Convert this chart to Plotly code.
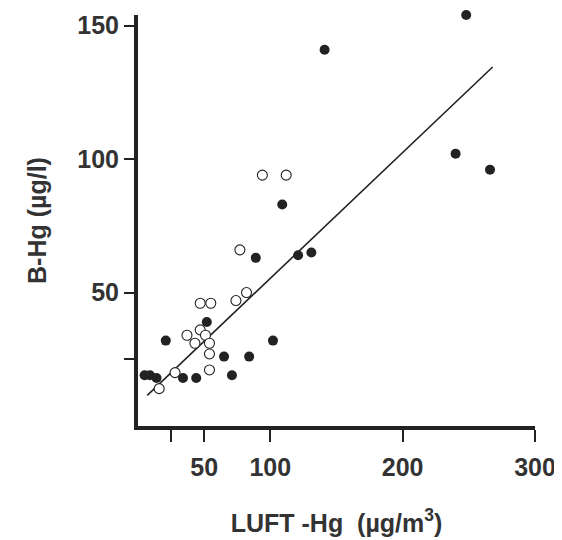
import plotly.graph_objects as go

# Data
filled_x = [141, 248, 240, 266, 109, 89, 121, 131, 52, 21, 102, 65, 84, 34, 44, 71, 5, 9, 14]
filled_y = [141, 154, 102, 96, 83, 63, 64, 65, 39, 32, 32, 26, 26, 18, 18, 19, 19, 19, 18]
open_x = [112, 94, 77, 82, 74, 47, 55, 37, 47, 43, 51, 54, 54, 54, 28, 16]
open_y = [94, 94, 66, 50, 47, 46, 46, 34, 36, 31, 34, 31, 27, 21, 20, 14]
line_x = [7, 268]
line_y = [11.5, 134.5]
x_tick_vals = [25, 50, 100, 200, 300]
x_tick_text = ["", "50", "100", "200", "300"]
y_tick_vals = [25, 50, 100, 150]
y_tick_text = ["", "50", "100", "150"]

ink = "#222222"
text_ink = "#333333"
font_family = "Liberation Sans, Arial, sans-serif"
fsize = 25

fig = go.Figure()
fig.add_trace(go.Scatter(x=line_x, y=line_y, mode="lines",
                         line=dict(color=ink, width=1.6), hoverinfo="skip",
                         showlegend=False, cliponaxis=False))
fig.add_trace(go.Scatter(x=open_x, y=open_y, mode="markers",
                         marker=dict(symbol="circle", size=10, color="white",
                                     line=dict(color=ink, width=1.1)),
                         showlegend=False, cliponaxis=False))
fig.add_trace(go.Scatter(x=filled_x, y=filled_y, mode="markers",
                         marker=dict(symbol="circle", size=10, color=ink,
                                     line=dict(color=ink, width=0)),
                         showlegend=False, cliponaxis=False))

# page body has an 8px default margin, so the figure is sized/offset to compensate
fig.update_layout(
    width=554, height=532,
    margin=dict(l=130, r=27, t=7, b=114, autoexpand=False),
    paper_bgcolor="white", plot_bgcolor="white",
    font=dict(family=font_family, color=text_ink, size=fsize, weight="bold"),
    showlegend=False,
)
fig.update_xaxes(
    range=[0, 300], showgrid=False, zeroline=False, automargin=False,
    showline=True, linecolor=ink, linewidth=4,
    ticks="outside", ticklen=12, tickwidth=2, tickcolor=ink,
    tickvals=x_tick_vals, ticktext=x_tick_text,
    tickfont=dict(size=fsize, color=text_ink, weight="bold"),
    ticklabelstandoff=4,
    title=dict(text="LUFT -Hg  (µg/m<sup>3</sup>)",
               font=dict(size=fsize, color=text_ink, weight="bold"), standoff=35),
)
fig.update_yaxes(
    range=[0, 154], showgrid=False, zeroline=False, automargin=False,
    showline=True, linecolor=ink, linewidth=4,
    ticks="outside", ticklen=10, tickwidth=2, tickcolor=ink,
    tickvals=y_tick_vals, ticktext=y_tick_text,
    tickfont=dict(size=fsize, color=text_ink, weight="bold"),
    ticklabelstandoff=0,
    title=dict(text="B-Hg (µg/l)",
               font=dict(size=fsize, color=text_ink, weight="bold"), standoff=25),
)

fig.write_html("out.html")
